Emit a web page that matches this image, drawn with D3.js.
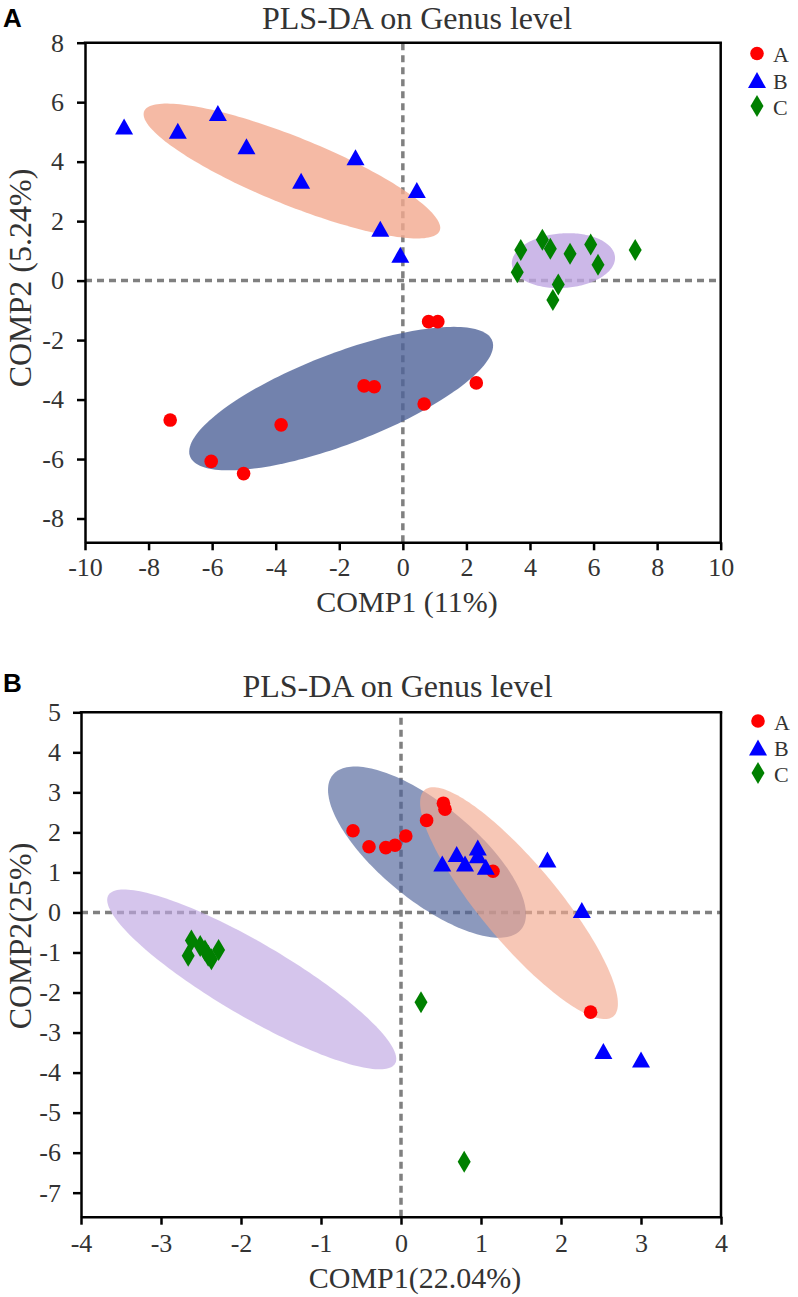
<!DOCTYPE html>
<html><head><meta charset="utf-8">
<script src="https://cdn.jsdelivr.net/npm/d3@7"></script>
<style>body{margin:0;background:#fff}</style>
</head><body>
<svg id="c" width="798" height="1297"></svg>
<script>
// ---------- data ----------
const groups = ["A", "B", "C"];
const pointColors = ["#ff0000", "#0000ff", "#008000"];
const ellipseColors = ["#4f6399", "#f2a98f", "#bfa6e2"]; // A, B, C

// Panel A : PLS-DA (COMP1 11%, COMP2 5.24%)
const panelA_groupA = [[-7.32,-4.69],[-6.03,-6.08],[-5.01,-6.49],[-3.83,-4.85],[-1.22,-3.54],[-0.90,-3.57],[0.81,-1.38],[1.10,-1.38],[2.31,-3.44],[0.67,-4.15]];
const panelA_groupB = [[-8.77,5.18],[-7.08,5.04],[-5.82,5.64],[-4.92,4.52],[-3.20,3.36],[-1.49,4.15],[-0.71,1.74],[-0.08,0.87],[0.44,3.05]];
const panelA_groupC = [[3.71,1.03],[3.60,0.28],[4.39,1.37],[4.64,1.07],[5.26,0.90],[5.91,1.21],[6.14,0.53],[7.31,1.03],[4.89,-0.13],[4.72,-0.65]];
// ellipses: centre x, centre y, conjugate semi-axis U (x,y), V (x,y) in data units
const panelA_ellipseA = [-1.941,-3.968, 4.753,1.947, 0.511,-1.4255];
const panelA_ellipseB = [-3.49,3.685, 4.649,-2.008, -0.398,-1.054];
const panelA_ellipseC = [5.052,0.672, 1.622,0.121, 0.060,-0.916];
const panelA_xTicks = [-10,-8,-6,-4,-2,0,2,4,6,8,10];
const panelA_yTicks = [-8,-6,-4,-2,0,2,4,6,8];

// Panel B : PLS-DA (COMP1 22.04%, COMP2 25%)
const panelB_groupA = [[-0.60,2.04],[-0.40,1.64],[-0.19,1.62],[-0.075,1.68],[0.06,1.91],[0.32,2.30],[0.53,2.73],[0.55,2.58],[1.15,1.03],[2.37,-2.49]];
const panelB_groupB = [[0.516,1.225],[0.696,1.46],[0.80,1.225],[0.96,1.625],[0.96,1.43],[1.06,1.14],[1.83,1.325],[2.26,0.06],[2.53,-3.46],[3.0,-3.67]];
const panelB_groupC = [[-2.62,-0.70],[-2.66,-1.08],[-2.51,-0.84],[-2.45,-0.95],[-2.37,-1.17],[-2.28,-0.94],[-2.41,-1.08],[0.25,-2.24],[0.79,-6.23]];
const panelB_ellipseA = [0.325,1.5075, 1.178,-1.929, -0.378,-0.923];
const panelB_ellipseB = [1.475,0.2325, 1.1786,-2.829, -0.3726,-0.621];
const panelB_ellipseC = [-1.866,-1.6725, 1.792,-2.103, -0.231,-0.787];
const panelB_xTicks = [-4,-3,-2,-1,0,1,2,3,4];
const panelB_yTicks = [-7,-6,-5,-4,-3,-2,-1,0,1,2,3,4,5];

// ---------- drawing ----------
const svg = d3.select("#c");
const serif = "'Liberation Serif','Times New Roman',serif";
const textCol = "#333";

function symbolPath(k) {
  if (k === 0) return d3.symbol(d3.symbolCircle, 145)();
  if (k === 1) return "M0,-8L9,8L-9,8Z";
  return "M0,-11L6.5,0L0,11L-6.5,0Z";
}

function panel(o) {
  const g = svg.append("g");
  const x = d3.scaleLinear().domain(o.xDomain).range(o.xRange);
  const y = d3.scaleLinear().domain(o.yDomain).range(o.yRange);

  // zero reference lines
  const dash = {stroke: "#808080", "stroke-width": 3.5, "stroke-dasharray": "7,5"};
  const vl = g.append("line").attr("x1", x(0)).attr("x2", x(0)).attr("y1", y(o.yDomain[0])).attr("y2", y(o.yDomain[1]));
  const hl = g.append("line").attr("x1", x(o.xDomain[0])).attr("x2", x(o.xDomain[1])).attr("y1", y(0)).attr("y2", y(0));
  for (const k in dash) { vl.attr(k, dash[k]); hl.attr(k, dash[k]); }

  // ellipses
  const line = d3.line().x(d => x(d[0])).y(d => y(d[1])).curve(d3.curveLinearClosed);
  o.ellipseOrder.forEach(i => {
    const e = o.ellipses[i];
    const pts = d3.range(0, 360, 2).map(deg => {
      const t = deg * Math.PI / 180;
      return [e[0] + Math.cos(t) * e[2] + Math.sin(t) * e[4],
              e[1] + Math.cos(t) * e[3] + Math.sin(t) * e[5]];
    });
    g.append("path").attr("d", line(pts)).attr("fill", ellipseColors[i]).attr("fill-opacity", o.ellipseOpacity);
  });

  // points
  o.points.forEach((arr, i) => {
    g.selectAll(null).data(arr).enter().append("path")
      .attr("d", symbolPath(i))
      .attr("transform", d => `translate(${x(d[0])},${y(d[1])})`)
      .attr("fill", pointColors[i]);
  });

  // axes
  const xa = g.append("g").attr("transform", `translate(0,${y(o.yDomain[0])})`)
    .call(d3.axisBottom(x).tickValues(o.xTicks).tickSize(8).tickSizeOuter(0).tickPadding(o.xPad).tickFormat(d => String(d)));
  const ya = g.append("g").attr("transform", `translate(${x(o.xDomain[0])},0)`)
    .call(d3.axisLeft(y).tickValues(o.yTicks).tickSize(8).tickSizeOuter(0).tickPadding(o.yPad).tickFormat(d => String(d)));
  [xa, ya].forEach(a => {
    a.select(".domain").attr("stroke", "#000").attr("stroke-width", 2.5);
    a.selectAll(".tick line").attr("stroke", "#000").attr("stroke-width", 2.5);
    a.selectAll(".tick text").attr("font-family", serif).attr("font-size", 26).attr("fill", textCol);
  });
  // top & right frame
  g.append("line").attr("x1", x(o.xDomain[0]) - 1.25).attr("x2", x(o.xDomain[1]) + 1.25)
    .attr("y1", y(o.yDomain[1])).attr("y2", y(o.yDomain[1])).attr("stroke", "#000").attr("stroke-width", 2.5);
  g.append("line").attr("x1", x(o.xDomain[1])).attr("x2", x(o.xDomain[1]))
    .attr("y1", y(o.yDomain[1])).attr("y2", y(o.yDomain[0]) + 1.25).attr("stroke", "#000").attr("stroke-width", 2.5);

  // titles
  g.append("text").attr("x", o.titleX).attr("y", o.titleY).attr("text-anchor", "middle")
    .attr("font-family", serif).attr("font-size", 32).attr("fill", textCol).text(o.title);
  g.append("text").attr("x", o.xLabelX).attr("y", o.xLabelY).attr("text-anchor", "middle")
    .attr("font-family", serif).attr("font-size", 30).attr("fill", textCol).text(o.xLabel);
  g.append("text").attr("transform", `translate(${o.yLabelX},${o.yLabelY}) rotate(-90)`).attr("text-anchor", "middle")
    .attr("font-family", serif).attr("font-size", 32).attr("fill", textCol).text(o.yLabel);
  g.append("text").attr("x", 3).attr("y", o.letterY)
    .attr("font-family", "'Liberation Sans',Arial,sans-serif").attr("font-weight", "bold").attr("font-size", 26)
    .attr("fill", "#000").text(o.letter);

  // legend
  groups.forEach((name, i) => {
    g.append("path").attr("d", symbolPath(i))
      .attr("transform", `translate(${o.legendX},${o.legendY[i]})`).attr("fill", pointColors[i]);
    g.append("text").attr("x", o.legendX + 16).attr("y", o.legendY[i] + 8.5)
      .attr("font-family", serif).attr("font-size", 22).attr("fill", textCol).text(name);
  });
}

panel({
  xDomain: [-10, 10], xRange: [85, 720.7],
  yDomain: [-8.8, 8], yRange: [542.3, 42.7],
  xTicks: panelA_xTicks, yTicks: panelA_yTicks, xPad: 7, yPad: 13,
  points: [panelA_groupA, panelA_groupB, panelA_groupC],
  ellipses: [panelA_ellipseA, panelA_ellipseB, panelA_ellipseC],
  ellipseOrder: [1, 0, 2], ellipseOpacity: 0.8,
  title: "PLS-DA on Genus level", titleX: 417, titleY: 28.5,
  xLabel: "COMP1 (11%)", xLabelX: 407, xLabelY: 612,
  yLabel: "COMP2 (5.24%)", yLabelX: 31, yLabelY: 278,
  letter: "A", letterY: 27,
  legendX: 757, legendY: [53.5, 80, 106]
});

panel({
  xDomain: [-4, 4], xRange: [81, 721],
  yDomain: [-7.6, 5], yRange: [1216.7, 712.3],
  xTicks: panelB_xTicks, yTicks: panelB_yTicks, xPad: 9, yPad: 12,
  points: [panelB_groupA, panelB_groupB, panelB_groupC],
  ellipses: [panelB_ellipseA, panelB_ellipseB, panelB_ellipseC],
  ellipseOrder: [0, 1, 2], ellipseOpacity: 0.65,
  title: "PLS-DA on Genus level", titleX: 397.5, titleY: 697,
  xLabel: "COMP1(22.04%)", xLabelX: 415, xLabelY: 1288,
  yLabel: "COMP2(25%)", yLabelX: 31, yLabelY: 936,
  letter: "B", letterY: 692,
  legendX: 758, legendY: [721, 747.5, 773]
});
</script>
</body></html>
